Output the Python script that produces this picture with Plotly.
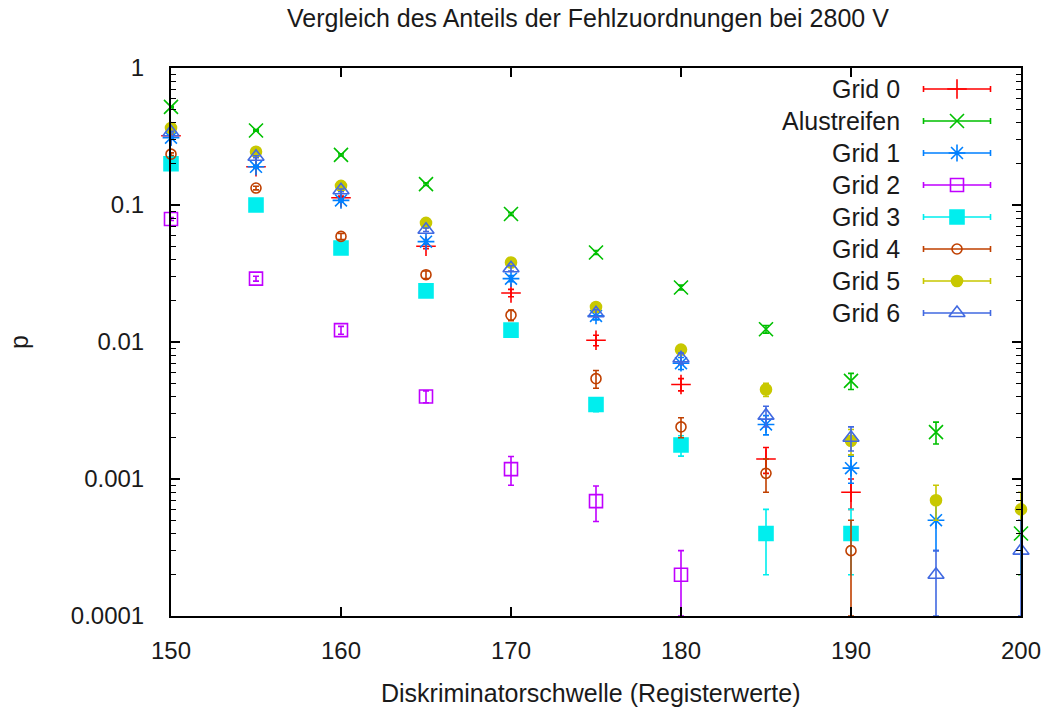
import plotly.graph_objects as go

# Diskriminatorschwelle (register values) per series
x_grid0 = [150, 155, 160, 165, 170, 175, 180, 185, 190]
x_alu = [150, 155, 160, 165, 170, 175, 180, 185, 190, 195, 200]
x_grid1 = [150, 155, 160, 165, 170, 175, 180, 185, 190, 195]
x_grid2 = [150, 155, 160, 165, 170, 175, 180]
x_grid3 = [150, 155, 160, 165, 170, 175, 180, 185, 190]
x_grid4 = [150, 155, 160, 165, 170, 175, 180, 185, 190]
x_grid5 = [150, 155, 160, 165, 170, 175, 180, 185, 190, 195, 200]
x_grid6 = [150, 155, 160, 165, 170, 175, 180, 185, 190, 195, 200]

# Anteil der Fehlzuordnungen p and its uncertainty
p_grid0 = [0.32, 0.19, 0.113, 0.050, 0.0228, 0.0103, 0.0049, 0.0014, 0.0008]
e_grid0 = [0.004, 0.004, 0.003, 0.002, 0.0014, 0.0009, 0.0005, 0.0003, 0.0002]
p_alu = [0.52, 0.35, 0.232, 0.142, 0.086, 0.045, 0.025, 0.0124, 0.0052, 0.0022, 0.0004]
e_alu = [0.005, 0.005, 0.004, 0.003, 0.002, 0.0015, 0.001, 0.0008, 0.0007, 0.0004, 0.0002]
p_grid1 = [0.31, 0.19, 0.108, 0.054, 0.029, 0.0155, 0.0070, 0.0025, 0.0012, 0.0005]
e_grid1 = [0.004, 0.004, 0.003, 0.002, 0.0015, 0.001, 0.0007, 0.0004, 0.00027, 0.0002]
p_grid2 = [0.079, 0.029, 0.0122, 0.0040, 0.00118, 0.00069, 0.0002]
e_grid2 = [0.002, 0.0012, 0.0008, 0.0004, 0.00028, 0.0002, 0.0001]
p_grid3 = [0.20, 0.10, 0.0485, 0.0236, 0.0122, 0.0035, 0.00177, 0.0004, 0.0004]
e_grid3 = [0.004, 0.003, 0.002, 0.0015, 0.001, 0.0004, 0.0003, 0.0002, 0.0002]
p_grid4 = [0.235, 0.133, 0.059, 0.031, 0.0157, 0.0054, 0.0024, 0.0011, 0.0003]
e_grid4 = [0.005, 0.004, 0.003, 0.002, 0.0014, 0.0008, 0.0004, 0.0003, 0.0002]
p_grid5 = [0.365, 0.245, 0.138, 0.074, 0.038, 0.018, 0.0088, 0.0045, 0.0019, 0.0007, 0.0006]
e_grid5 = [0.005, 0.004, 0.003, 0.002, 0.0015, 0.001, 0.0007, 0.0005, 0.0004, 0.0002, 0.0002]
p_grid6 = [0.34, 0.225, 0.128, 0.066, 0.0345, 0.0162, 0.0076, 0.0029, 0.002, 0.0002, 0.0003]
e_grid6 = [0.005, 0.004, 0.003, 0.002, 0.0015, 0.001, 0.0007, 0.0005, 0.0004, 0.0001, 0.0002]

names = ["Grid 0", "Alustreifen", "Grid 1", "Grid 2", "Grid 3", "Grid 4", "Grid 5", "Grid 6"]
xs = [x_grid0, x_alu, x_grid1, x_grid2, x_grid3, x_grid4, x_grid5, x_grid6]
ps = [p_grid0, p_alu, p_grid1, p_grid2, p_grid3, p_grid4, p_grid5, p_grid6]
es = [e_grid0, e_alu, e_grid1, e_grid2, e_grid3, e_grid4, e_grid5, e_grid6]

x_ticks = [150, 160, 170, 180, 190, 200]
y_ticks = [1e-4, 1e-3, 1e-2, 1e-1, 1]
y_tick_text = ["0.0001", "0.001", "0.01", "0.1", "1"]

colors = ["#ff0000", "#00c000", "#0080ff", "#c000ff", "#00eeee", "#c04000", "#c8c800", "#4169e1"]
symbols = ["cross-thin", "x-thin", "asterisk", "square-open", "square", "circle-open", "circle", "triangle-up-open"]
sizes = [14, 14, 14, 13, 14, 10, 11, 14]

FONT = "Liberation Sans, Arial, sans-serif"
TXT = "#1a1a1a"

# plot area in pixels
L, R, T, B = 171, 1021, 68, 616
W, H = 1042, 708

fig = go.Figure()

for name, x, p, e, c, s, sz in zip(names, xs, ps, es, colors, symbols, sizes):
    fig.add_trace(go.Scatter(
        x=x, y=p, mode="markers", name=name, showlegend=False,
        cliponaxis=False,
        marker=dict(symbol=s, size=sz, color=c, line=dict(color=c, width=1.6)),
        error_y=dict(type="data", array=e, visible=True, color=c, thickness=1.6, width=3),
    ))

# key: right-aligned labels, horizontal sample bar with end caps and the symbol
row0, row_step = 21, 32
sample_x, sample_half = 786, 33.5
for i, (name, c, s, sz) in enumerate(zip(names, colors, symbols, sizes)):
    yrow = row0 + i * row_step
    fig.add_trace(go.Scatter(
        x=[sample_x], y=[yrow], xaxis="x2", yaxis="y2", mode="markers",
        showlegend=False, cliponaxis=False, hoverinfo="skip",
        marker=dict(symbol=s, size=sz, color=c, line=dict(color=c, width=1.6)),
        error_x=dict(type="constant", value=sample_half, color=c, thickness=1.6, width=3),
    ))
    fig.add_annotation(
        x=731, y=yrow, xref="x2", yref="y2", text=name, showarrow=False,
        xanchor="right", yanchor="middle",
        font=dict(family=FONT, size=25, color=TXT),
    )

def px_x(px):
    return (px - L) / (R - L)

def px_y(py):
    return (B - py) / (B - T)

fig.add_annotation(
    x=px_x(588), y=px_y(18), xref="paper", yref="paper",
    text="Vergleich des Anteils der Fehlzuordnungen bei 2800 V",
    showarrow=False, xanchor="center", yanchor="middle",
    font=dict(family=FONT, size=25, color=TXT),
)
fig.add_annotation(
    x=px_x(591), y=px_y(693), xref="paper", yref="paper",
    text="Diskriminatorschwelle (Registerwerte)",
    showarrow=False, xanchor="center", yanchor="middle",
    font=dict(family=FONT, size=25, color=TXT),
)
fig.add_annotation(
    x=px_x(19), y=px_y(342), xref="paper", yref="paper",
    text="p", textangle=-90,
    showarrow=False, xanchor="center", yanchor="middle",
    font=dict(family=FONT, size=25, color=TXT),
)

minor_vals = [m * 10.0 ** k for k in range(-4, 0) for m in range(2, 10)]

fig.update_layout(
    width=W, height=H,
    margin=dict(l=L, r=W - R, t=T, b=H - B, autoexpand=False),
    paper_bgcolor="white", plot_bgcolor="white",
    showlegend=False,
    font=dict(family=FONT, size=24, color=TXT),
    xaxis=dict(
        range=[150, 200], tickvals=x_ticks, ticktext=[str(v) for v in x_ticks],
        ticks="inside", ticklen=9, tickwidth=1.5, tickcolor="black",
        showline=True, linecolor="black", linewidth=2, mirror="allticks",
        showgrid=False, zeroline=False, ticklabelstandoff=12, automargin=False,
        tickfont=dict(family=FONT, size=24, color=TXT),
    ),
    yaxis=dict(
        type="log", range=[-4, 0], tickvals=y_ticks, ticktext=y_tick_text,
        ticks="inside", ticklen=9, tickwidth=1.5, tickcolor="black",
        showline=True, linecolor="black", linewidth=2, mirror="allticks",
        showgrid=False, zeroline=False, ticklabelstandoff=20, automargin=False,
        minor=dict(tickvals=minor_vals, ticks="inside", ticklen=5, tickwidth=1.2,
                   tickcolor="black", showgrid=False),
        tickfont=dict(family=FONT, size=24, color=TXT),
    ),
    xaxis2=dict(range=[0, R - L], overlaying="x", visible=False, fixedrange=True),
    yaxis2=dict(range=[B - T, 0], overlaying="y", visible=False, fixedrange=True),
)

fig.write_html("out.html")
